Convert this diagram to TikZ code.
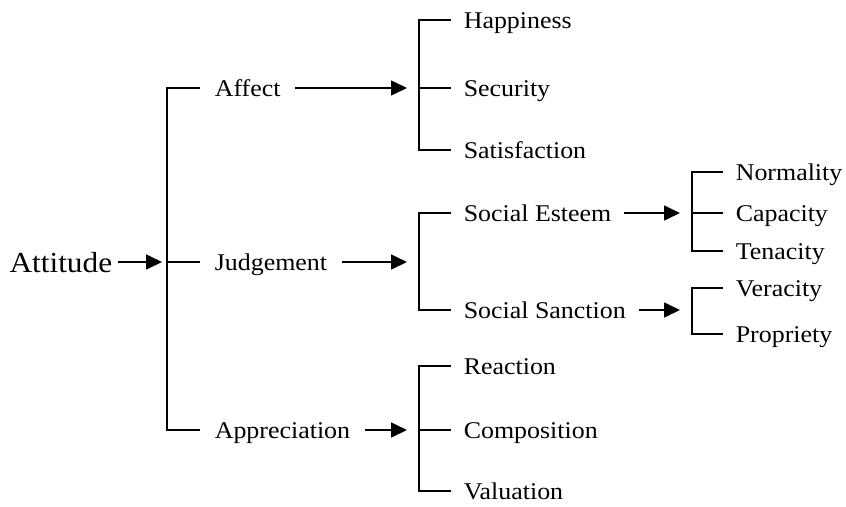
\documentclass[tikz,border=0pt]{standalone}
\usepackage{fontspec}
\setmainfont{Liberation Serif}[FakeStretch=1.08]
\usetikzlibrary{arrows.meta}

\begin{document}
\begin{tikzpicture}[x=1pt,y=-1pt,line width=1.6pt,
    lvl/.style={anchor=west,inner xsep=14pt,inner ysep=0pt,text height=17pt,text depth=0pt,font=\fontsize{24}{28}\selectfont},
    leaf/.style={anchor=west,inner xsep=12pt,inner ysep=0pt,text height=17pt,text depth=0pt,font=\fontsize{24}{28}\selectfont},
    arr/.style={-{Triangle[length=16pt,width=15pt]}}]
         \useasboundingbox (0,0) rectangle (846,506);

         \node [anchor=east,inner xsep=5pt,inner ysep=0pt,text height=20pt,text depth=0pt,font=\fontsize{29}{34}\selectfont] (attitude) at (118,262) {Attitude};
         \coordinate (attsp) at (167,262);

         \node [lvl] (affect)       at (200,88)  {Affect};
         \node [lvl] (judgement)    at (200,262) {Judgement};
         \node [lvl] (appreciation) at (200,430) {Appreciation};

         \coordinate (affsp) at (419,88);
         \coordinate (judsp) at (419,262);
         \coordinate (appsp) at (419,430);

         \node [leaf] (happiness)    at (451,20)  {Happiness};
         \node [leaf] (security)     at (451,88)  {Security};
         \node [leaf] (satisfaction) at (451,150) {Satisfaction};
         \node [leaf] (esteem)       at (451,213) {Social Esteem};
         \node [leaf] (sanction)     at (451,310) {Social Sanction};
         \node [leaf] (reaction)     at (451,366) {Reaction};
         \node [leaf] (composition)  at (451,430) {Composition};
         \node [leaf] (valuation)    at (451,491) {Valuation};

         \coordinate (estsp) at (692,213);
         \coordinate (sansp) at (692,310);

         \node [leaf] (normality) at (723,172) {Normality};
         \node [leaf] (capacity)  at (723,213) {Capacity};
         \node [leaf] (tenacity)  at (723,251) {Tenacity};
         \node [leaf] (veracity)  at (723,288) {Veracity};
         \node [leaf] (propriety) at (723,334) {Propriety};

  		 \draw [arr,shorten >=5pt] (attitude) -- (attsp) ;
  		 \draw (affect.west) -| (attsp) |- (appreciation.west) ;
  		 \draw (attsp) -- (judgement.west) ;

  		 \draw [arr,shorten >=12pt] (affect) -- (affsp) ;
  		 \draw [arr,shorten >=12pt] (judgement) -- (judsp) ;
  		 \draw [arr,shorten >=12pt] (appreciation) -- (appsp) ;

  		 \draw (happiness.west) -| (affsp) |- (satisfaction.west) ;
  		 \draw (affsp) -- (security.west) ;
  		 \draw (esteem.west) -| (judsp) |- (sanction.west) ;
  		 \draw (reaction.west) -| (appsp) |- (valuation.west) ;
  		 \draw (appsp) -- (composition.west) ;

  		 \draw [arr,shorten >=12pt] (esteem) -- (estsp) ;
  		 \draw [arr,shorten >=12pt] (sanction) -- (sansp) ;

  		 \draw (normality.west) -| (estsp) |- (tenacity.west) ;
  		 \draw (estsp) -- (capacity.west) ;
  		 \draw (veracity.west) -| (sansp) |- (propriety.west) ;

        \end{tikzpicture}
\end{document}
